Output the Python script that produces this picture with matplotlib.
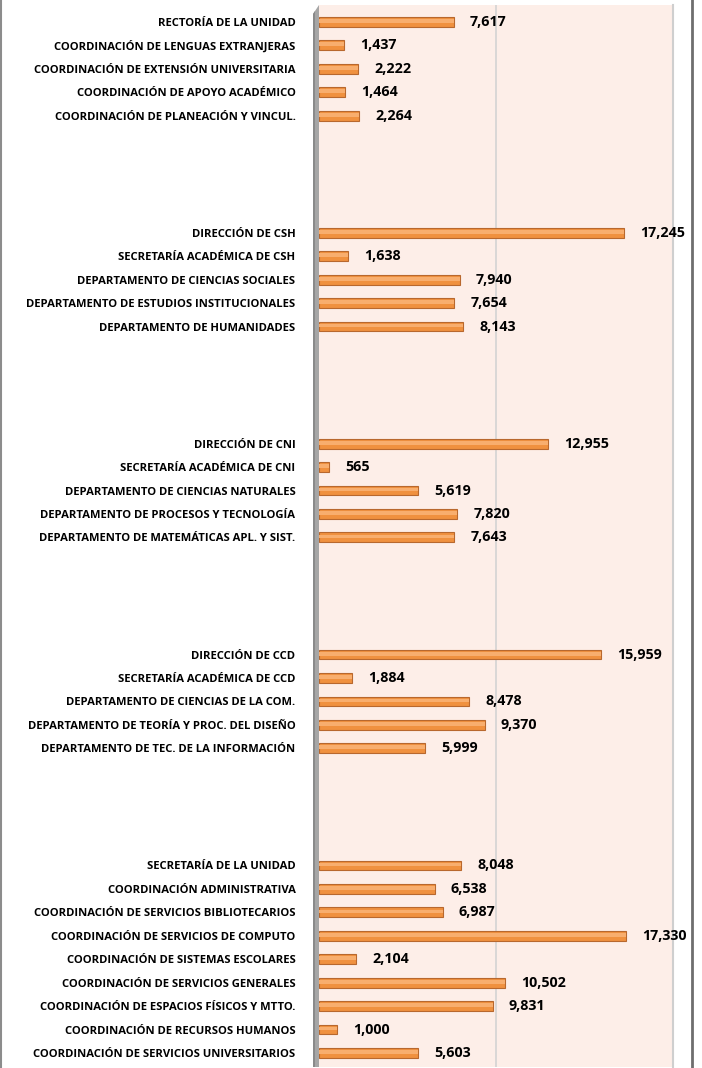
import matplotlib
matplotlib.use("Agg")
import matplotlib.pyplot as plt
from matplotlib.patches import Polygon
from matplotlib.lines import Line2D

plt.rcParams['font.family'] = ['Open Sans', 'DejaVu Sans']

categories = [
    "RECTORÍA DE LA UNIDAD",
    "COORDINACIÓN DE LENGUAS EXTRANJERAS",
    "COORDINACIÓN DE EXTENSIÓN UNIVERSITARIA",
    "COORDINACIÓN DE APOYO ACADÉMICO",
    "COORDINACIÓN DE PLANEACIÓN Y VINCUL.",
    "", "", "", "",
    "DIRECCIÓN DE CSH",
    "SECRETARÍA ACADÉMICA DE CSH",
    "DEPARTAMENTO DE CIENCIAS SOCIALES",
    "DEPARTAMENTO DE ESTUDIOS INSTITUCIONALES",
    "DEPARTAMENTO DE HUMANIDADES",
    "", "", "", "",
    "DIRECCIÓN DE CNI",
    "SECRETARÍA ACADÉMICA DE CNI",
    "DEPARTAMENTO DE CIENCIAS NATURALES",
    "DEPARTAMENTO DE PROCESOS Y TECNOLOGÍA",
    "DEPARTAMENTO DE MATEMÁTICAS APL. Y SIST.",
    "", "", "", "",
    "DIRECCIÓN DE CCD",
    "SECRETARÍA ACADÉMICA DE CCD",
    "DEPARTAMENTO DE CIENCIAS DE LA COM.",
    "DEPARTAMENTO DE TEORÍA Y PROC. DEL DISEÑO",
    "DEPARTAMENTO DE TEC. DE LA INFORMACIÓN",
    "", "", "", "",
    "SECRETARÍA DE LA UNIDAD",
    "COORDINACIÓN ADMINISTRATIVA",
    "COORDINACIÓN DE SERVICIOS BIBLIOTECARIOS",
    "COORDINACIÓN DE SERVICIOS DE COMPUTO",
    "COORDINACIÓN DE SISTEMAS ESCOLARES",
    "COORDINACIÓN DE SERVICIOS GENERALES",
    "COORDINACIÓN DE ESPACIOS FÍSICOS Y MTTO.",
    "COORDINACIÓN DE RECURSOS HUMANOS",
    "COORDINACIÓN DE SERVICIOS UNIVERSITARIOS",
]

values = [
    7617, 1437, 2222, 1464, 2264,
    None, None, None, None,
    17245, 1638, 7940, 7654, 8143,
    None, None, None, None,
    12955, 565, 5619, 7820, 7643,
    None, None, None, None,
    15959, 1884, 8478, 9370, 5999,
    None, None, None, None,
    8048, 6538, 6987, 17330, 2104, 10502, 9831, 1000, 5603,
]

W, H = 702, 1068
fig = plt.figure(figsize=(W / 100, H / 100), dpi=100)
fig.patch.set_facecolor('white')

x0, x1, y0, y1 = 319, 673, 5, 1067
ax = fig.add_axes([x0 / W, 1 - y1 / H, (x1 - x0) / W, (y1 - y0) / H])
ax.set_facecolor('#FDEEE8')

pos = [i for i, v in enumerate(values) if v is not None]
vals = [values[i] for i in pos]

ax.barh(pos, vals, height=0.42, color='#F0913F', edgecolor='#B8682E', linewidth=0.8, zorder=3)
ax.barh([p - 0.04 for p in pos], vals, height=0.16, color='#F8AE6E', linewidth=0, zorder=4)

for p, v in zip(pos, vals):
    ax.annotate(f"{v:,}", xy=(v, p), xytext=(11.5, 0), textcoords='offset points',
                ha='left', va='center', fontsize=10.3, fontweight='bold', color='black', zorder=5)

ax.set_xlim(0, 20000)
ax.set_ylim(44.6, -0.72)
ax.set_xticks([10000])
ax.set_xticklabels([])
ax.tick_params(axis='x', length=0)
ax.grid(axis='x', color='#D3D3D3', linewidth=1.2, zorder=1)
ax.set_yticks(range(len(categories)))
ax.set_yticklabels(categories, fontsize=8.1, fontweight='bold')
ax.tick_params(axis='y', length=0, pad=17)
for s in ['top', 'bottom', 'left']:
    ax.spines[s].set_visible(False)
ax.spines['right'].set_color('#CFCFCF')
ax.spines['right'].set_linewidth(1.5)

# left 3D wall
def fc(px, py):
    return (px / W, 1 - py / H)

wall = Polygon([fc(313, 14), fc(319, 5), fc(319, 1067), fc(313, 1067)],
               closed=True, transform=fig.transFigure, facecolor='#A6A6A6',
               edgecolor='none', zorder=10)
fig.patches.append(wall)
wall2 = Polygon([fc(313, 14), fc(315, 11), fc(315, 1067), fc(313, 1067)],
                closed=True, transform=fig.transFigure, facecolor='#8A8A8A',
                edgecolor='none', zorder=11)
fig.patches.append(wall2)

# outer frame lines
fig.add_artist(Line2D([1 / W, 1 / W], [0, 1], transform=fig.transFigure, color='#8C8C8C', linewidth=1.5))
fig.add_artist(Line2D([692 / W, 692 / W], [0, 1], transform=fig.transFigure, color='#6E6E6E', linewidth=2))

fig.savefig('out.png', dpi=100)
